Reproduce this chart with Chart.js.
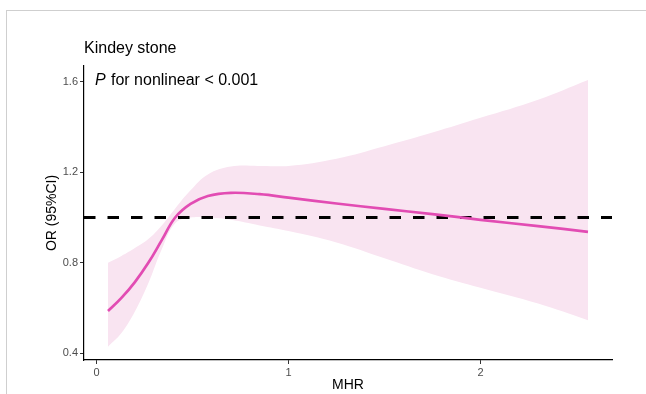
<!DOCTYPE html>
<html>
<head>
<meta charset="utf-8">
<script src="https://cdn.jsdelivr.net/npm/chart.js@4.4.1/dist/chart.umd.min.js"></script>
<style>
  html, body { margin: 0; padding: 0; background: #fff; }
  #wrap { position: relative; width: 646px; height: 394px; }
  #frame { position: absolute; left: 6px; top: 10px; right: 0; bottom: 0;
           border-left: 1px solid #cfcfcf; border-top: 1px solid #cfcfcf; }
  canvas { position: absolute; left: 0; top: 0; }
</style>
</head>
<body>
<div id="wrap">
  <div id="frame"></div>
  <canvas id="rcs" width="646" height="394"></canvas>
</div>
<script>
// MHR values (x) and restricted cubic spline estimates
const mhr   = [0.06, 0.13, 0.2, 0.27, 0.34, 0.41, 0.49, 0.58, 0.7, 0.85, 1.0, 1.25, 1.5, 1.75, 2.0, 2.3, 2.56];
const orFit = [0.587, 0.645, 0.715, 0.80, 0.90, 1.0, 1.06, 1.095, 1.109, 1.103, 1.088, 1.062, 1.038, 1.015, 0.99, 0.962, 0.937];
const ciUp  = [0.80, 0.83, 0.865, 0.905, 0.965, 1.04, 1.12, 1.19, 1.225, 1.228, 1.228, 1.26, 1.315, 1.375, 1.44, 1.52, 1.607];
const ciLow = [0.43, 0.49, 0.585, 0.71, 0.86, 0.975, 1.0, 1.0, 0.99, 0.965, 0.94, 0.89, 0.82, 0.75, 0.69, 0.62, 0.547];

const xTicks = [0, 1, 2];
const yTicks = [0.4, 0.8, 1.2, 1.6];
const xRange = [-0.065, 2.685];
const yRange = [0.371, 1.669];
const refOR = 1;

const titleText = 'Kindey stone';
const pText = 'for nonlinear < 0.001';
const yTitle = 'OR (95%CI)';

const pts = ys => mhr.map((x, i) => ({ x, y: ys[i] }));

const labelsPlugin = {
  id: 'labels',
  afterDraw(chart) {
    const c = chart.ctx;
    const a = chart.chartArea;
    c.save();
    c.fillStyle = '#000';
    c.textBaseline = 'middle';
    c.font = '16px "Liberation Sans", Arial, sans-serif';
    c.fillText(titleText, 84, 49);
    c.font = 'italic 16px "Liberation Sans", Arial, sans-serif';
    c.fillText('P', 95, 81);
    c.font = '16px "Liberation Sans", Arial, sans-serif';
    c.fillText(pText, 111, 81);
    // y axis title, centred on the plot area
    c.translate(52, (a.top + a.bottom) / 2);
    c.rotate(-Math.PI / 2);
    c.textAlign = 'center';
    c.font = '14px "Liberation Sans", Arial, sans-serif';
    c.fillText(yTitle, 0, 0);
    c.restore();
  }
};

const font = { family: '"Liberation Sans", Arial, sans-serif' };

new Chart(document.getElementById('rcs'), {
  type: 'line',
  data: {
    datasets: [
      {
        label: 'OR',
        data: pts(orFit),
        borderColor: '#E24CB3',
        borderWidth: 2.7,
        pointRadius: 0,
        tension: 0.4,
        fill: false
      },
      {
        label: 'ref',
        data: [{ x: xRange[0], y: refOR }, { x: xRange[1], y: refOR }],
        borderColor: '#000',
        borderWidth: 3,
        borderDash: [11.5, 12],
        pointRadius: 0,
        fill: false
      },
      {
        label: 'upper',
        data: pts(ciUp),
        borderWidth: 0,
        borderColor: 'rgba(0,0,0,0)',
        backgroundColor: '#F9E4F1',
        pointRadius: 0,
        tension: 0.4,
        fill: '+1'
      },
      {
        label: 'lower',
        data: pts(ciLow),
        borderWidth: 0,
        borderColor: 'rgba(0,0,0,0)',
        pointRadius: 0,
        tension: 0.4,
        fill: false
      }
    ]
  },
  options: {
    responsive: false,
    animation: false,
    events: [],
    layout: { padding: { left: 0, right: 34, top: 66, bottom: 0 } },
    plugins: { legend: { display: false }, tooltip: { enabled: false } },
    scales: {
      x: {
        type: 'linear',
        min: xRange[0],
        max: xRange[1],
        afterBuildTicks: s => { s.ticks = xTicks.map(v => ({ value: v })); },
        afterFit: s => { s.height = 34; },
        border: { display: true, color: '#000', width: 1.2 },
        grid: { drawOnChartArea: false, drawTicks: true, tickLength: 4, color: '#333' },
        ticks: { color: '#4d4d4d', font: { ...font, size: 11 }, padding: 2 },
        title: { display: true, text: 'MHR', color: '#000', font: { ...font, size: 14 }, padding: { top: 0, bottom: 0 } }
      },
      y: {
        min: yRange[0],
        max: yRange[1],
        afterBuildTicks: s => { s.ticks = yTicks.map(v => ({ value: v })); },
        afterFit: s => { s.width = 84; },
        border: { display: true, color: '#000', width: 1.2 },
        grid: { drawOnChartArea: false, drawTicks: true, tickLength: 4, color: '#333' },
        ticks: { color: '#4d4d4d', font: { ...font, size: 11 }, padding: 2, callback: v => v.toFixed(1) }
      }
    }
  },
  plugins: [labelsPlugin]
});
</script>
</body>
</html>
